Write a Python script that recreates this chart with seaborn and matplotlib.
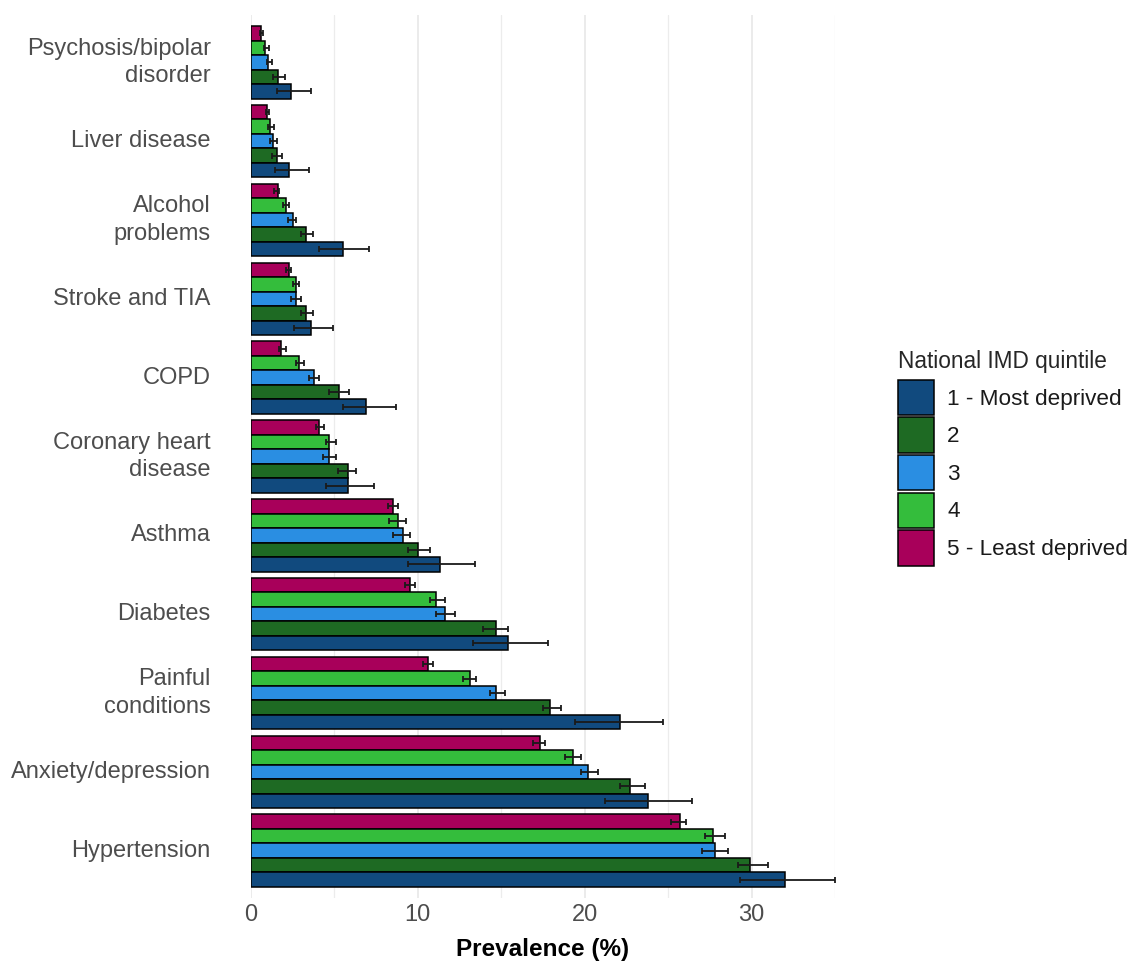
import numpy as np
import pandas as pd
import matplotlib
matplotlib.use("Agg")
import matplotlib.pyplot as plt
import seaborn as sns
from matplotlib.patches import Patch
from matplotlib.ticker import MultipleLocator

# ---------------- data ----------------
categories = ["Psychosis/bipolar\ndisorder", "Liver disease", "Alcohol\nproblems",
              "Stroke and TIA", "COPD", "Coronary heart\ndisease", "Asthma",
              "Diabetes", "Painful\nconditions", "Anxiety/depression", "Hypertension"]

quintiles = ["1 - Most deprived", "2", "3", "4", "5 - Least deprived"]

q1 = [2.4, 2.3, 5.5, 3.6, 6.9, 5.8, 11.3, 15.4, 22.1, 23.8, 32.0]
q1_lo = [1.55, 1.45, 4.1, 2.6, 5.5, 4.5, 9.4, 13.3, 19.4, 21.2, 29.3]
q1_hi = [3.6, 3.5, 7.1, 4.9, 8.7, 7.4, 13.4, 17.8, 24.7, 26.4, 35.0]

q2 = [1.6, 1.55, 3.3, 3.3, 5.3, 5.8, 10.0, 14.7, 17.9, 22.7, 29.9]
q2_lo = [1.3, 1.25, 3.0, 3.0, 4.7, 5.2, 9.4, 13.9, 17.5, 22.1, 29.2]
q2_hi = [2.05, 1.85, 3.7, 3.7, 5.9, 6.3, 10.7, 15.4, 18.6, 23.6, 31.0]

q3 = [1.0, 1.3, 2.5, 2.7, 3.8, 4.7, 9.1, 11.6, 14.7, 20.2, 27.8]
q3_lo = [0.95, 1.15, 2.2, 2.4, 3.5, 4.3, 8.5, 11.1, 14.3, 19.8, 27.0]
q3_hi = [1.25, 1.55, 2.7, 3.0, 4.1, 5.1, 9.5, 12.2, 15.2, 20.8, 28.6]

q4 = [0.85, 1.15, 2.1, 2.7, 2.9, 4.7, 8.8, 11.1, 13.1, 19.3, 27.7]
q4_lo = [0.75, 1.0, 1.9, 2.5, 2.7, 4.5, 8.3, 10.7, 12.7, 18.8, 27.2]
q4_hi = [1.1, 1.4, 2.3, 2.9, 3.2, 5.1, 9.3, 11.6, 13.5, 19.8, 28.4]

q5 = [0.6, 0.95, 1.6, 2.3, 1.8, 4.1, 8.5, 9.5, 10.6, 17.3, 25.7]
q5_lo = [0.55, 0.9, 1.4, 2.1, 1.7, 3.9, 8.2, 9.2, 10.3, 16.9, 25.2]
q5_hi = [0.7, 1.05, 1.7, 2.4, 2.1, 4.4, 8.8, 9.8, 10.9, 17.6, 26.1]

colors = {"1 - Most deprived": "#114A7E", "2": "#1E6A23", "3": "#2A8EE2",
          "4": "#34BD3C", "5 - Least deprived": "#A8005A"}

vals = [q1, q2, q3, q4, q5]
los = [q1_lo, q2_lo, q3_lo, q4_lo, q5_lo]
his = [q1_hi, q2_hi, q3_hi, q4_hi, q5_hi]

rows = []
for q, v, lo, hi in zip(quintiles, vals, los, his):
    for c, a, b, d in zip(categories, v, lo, hi):
        rows.append({"condition": c, "quintile": q, "prev": a, "lo": b, "hi": d})
df = pd.DataFrame(rows)

# ---------------- plot ----------------
sns.set_theme(style="white")
plt.rcParams["font.family"] = ["Liberation Sans", "DejaVu Sans"]

W, H = 1138, 965
fig = plt.figure(figsize=(W / 100, H / 100), dpi=100)
ax = fig.add_axes([251 / W, 1 - 898 / H, 584 / W, 883 / H])

hue_order = quintiles[::-1]  # 5 at top of each group, 1 at bottom
sns.barplot(data=df, y="condition", x="prev", hue="quintile", order=categories,
            hue_order=hue_order, palette=colors, orient="h", width=0.92,
            saturation=1, errorbar=None, edgecolor="black", linewidth=1.1,
            ax=ax, legend=False, zorder=2)

# error bars, positioned on the bars seaborn drew
for q, cont in zip(hue_order, ax.containers):
    sub = df[df["quintile"] == q].set_index("condition").loc[categories]
    ys = [b.get_y() + b.get_height() / 2 for b in cont]
    xerr = np.vstack([sub["prev"] - sub["lo"], sub["hi"] - sub["prev"]])
    ax.errorbar(sub["prev"], ys, xerr=xerr, fmt="none", ecolor="#1a1a1a",
                elinewidth=1.3, capsize=2.5, capthick=1.3, zorder=3)

ax.set_xlim(0, 35)
ax.set_ylim(10.6, -0.6)
ax.xaxis.set_major_locator(MultipleLocator(10))
ax.xaxis.set_minor_locator(MultipleLocator(5))
ax.grid(axis="x", which="major", color="#E6E6E6", linewidth=1.1, zorder=0)
ax.grid(axis="x", which="minor", color="#ECECEC", linewidth=0.9, zorder=0)
ax.grid(axis="y", visible=False)
ax.set_axisbelow(True)
for s in ax.spines.values():
    s.set_visible(False)
ax.tick_params(axis="both", which="both", length=0, labelsize=17,
               labelcolor="#4D4D4D")
ax.tick_params(axis="y", pad=29)
ax.tick_params(axis="x", pad=4)
for lab in ax.get_yticklabels():
    lab.set_verticalalignment("center")
    lab.set_linespacing(1.3)
ax.set_ylabel("")
ax.set_xlabel("Prevalence (%)", fontsize=17.5, fontweight="bold", color="black",
              labelpad=9)

handles = [Patch(facecolor=colors[q], edgecolor="black", linewidth=1.1)
           for q in quintiles]
leg = fig.legend(handles, quintiles, title="National IMD quintile",
                 loc="upper left", bbox_to_anchor=(889 / W, 1 - 341 / H),
                 frameon=False, fontsize=16.2, title_fontsize=16.3,
                 handlelength=1.6, handleheight=2.05, labelspacing=0.09,
                 handletextpad=0.58, alignment="left", borderaxespad=0)
leg._legend_box.sep = 5
for t in leg.get_texts():
    t.set_color("#1a1a1a")

fig.savefig("out.png", dpi=100)
